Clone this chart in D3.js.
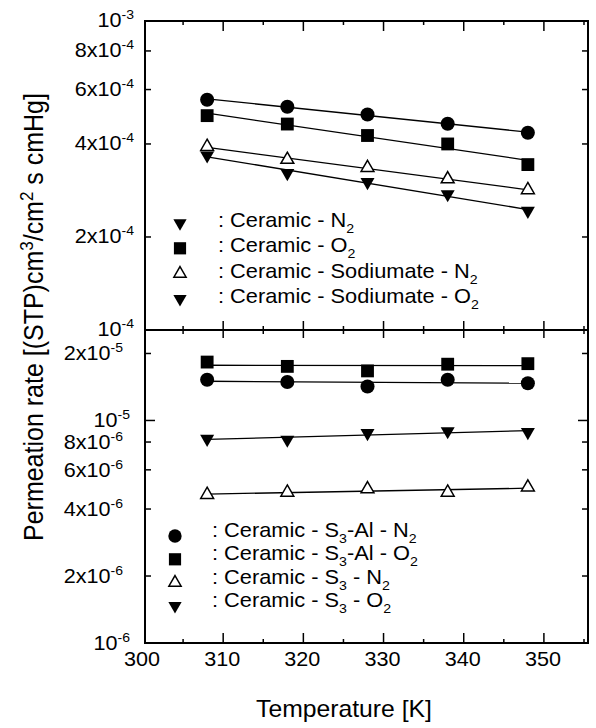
<!DOCTYPE html>
<html>
<head>
<meta charset="utf-8">
<script src="https://cdn.jsdelivr.net/npm/d3@7"></script>
<style>
html,body{margin:0;padding:0;background:#fff;}
svg{display:block;font-family:"Liberation Sans",Arial,Helvetica,sans-serif;}
</style>
</head>
<body>
<svg id="chart" width="596" height="728"></svg>
<script>
// ---------------- DATA ----------------
const temperatures = [308, 318, 328, 338, 348];

// upper panel (units: cm3(STP)/cm2 s cmHg)
const ceramicN2        = [5.56e-4, 5.28e-4, 4.98e-4, 4.65e-4, 4.35e-4];
const ceramicO2        = [4.94e-4, 4.64e-4, 4.26e-4, 4.00e-4, 3.43e-4];
const sodiumateN2      = [3.92e-4, 3.56e-4, 3.35e-4, 3.08e-4, 2.84e-4];
const sodiumateO2      = [3.67e-4, 3.22e-4, 3.01e-4, 2.75e-4, 2.43e-4];

// lower panel
const s3AlN2           = [1.525e-5, 1.49e-5, 1.42e-5, 1.525e-5, 1.47e-5];
const s3AlO2           = [1.83e-5, 1.75e-5, 1.67e-5, 1.79e-5, 1.80e-5];
const s3N2             = [4.64e-6, 4.75e-6, 4.92e-6, 4.75e-6, 5.01e-6];
const s3O2             = [8.27e-6, 8.19e-6, 8.77e-6, 8.95e-6, 8.86e-6];

const topLegendLabels    = [": Ceramic - N_2", ": Ceramic - O_2", ": Ceramic - Sodiumate - N_2", ": Ceramic - Sodiumate - O_2"];
const bottomLegendLabels = [": Ceramic - S_3-Al - N_2", ": Ceramic - S_3-Al - O_2", ": Ceramic - S_3 - N_2", ": Ceramic - S_3 - O_2"];

const xTickValues    = [300, 310, 320, 330, 340, 350];
const xMinorValues   = [305, 315, 325, 335, 345, 355];
const topYTicks      = [1e-3, 8e-4, 6e-4, 4e-4, 2e-4, 1e-4];
const topYTickLabels = [["","-3"], ["8x","-4"], ["6x","-4"], ["4x","-4"], ["2x","-4"], ["","-4"]];
const botYTicks      = [2e-5, 1e-5, 8e-6, 6e-6, 4e-6, 2e-6, 1e-6];
const botYTickLabels = [["2x","-5"], ["","-5"], ["8x","-6"], ["6x","-6"], ["4x","-6"], ["2x","-6"], ["","-6"]];

const xTitle = "Temperature [K]";

// ---------------- LAYOUT ----------------
const svg = d3.select("#chart");
const L = 145, R = 588;
const topY0 = 21, midY = 330, botY = 643;

const x = d3.scaleLinear().domain([300, 355.5]).range([143, R]);
const yTop = d3.scaleLog().domain([1e-4, 1e-3]).range([midY, topY0]);
const yBot = d3.scaleLog().domain([1e-6, 2.55e-5]).range([botY, midY]);

const topSeries = [
  {values: ceramicN2,   marker: "circle",  legend: "down"},
  {values: ceramicO2,   marker: "square",  legend: "square"},
  {values: sodiumateN2, marker: "up",      legend: "up"},
  {values: sodiumateO2, marker: "down",    legend: "down"}
];
const botSeries = [
  {values: s3AlN2, marker: "circle", legend: "circle"},
  {values: s3AlO2, marker: "square", legend: "square"},
  {values: s3N2,   marker: "up",     legend: "up"},
  {values: s3O2,   marker: "down",   legend: "down"}
];

function drawMarker(g, type, cx, cy, scale) {
  scale = scale || 1;
  let sym, rot = 0, fill = "#000", stroke = "none", sw = 0;
  if (type === "circle") sym = d3.symbol(d3.symbolCircle, 155 * scale);
  else if (type === "square") sym = d3.symbol(d3.symbolSquare, 165 * scale);
  else if (type === "down") { sym = d3.symbol(d3.symbolTriangle, 85 * scale); rot = 180; }
  else { sym = d3.symbol(d3.symbolTriangle, 72 * scale); fill = "#fff"; stroke = "#000"; sw = 1.5; }
  g.append("path").attr("d", sym())
    .attr("transform", `translate(${cx},${cy}) rotate(${rot})`)
    .attr("fill", fill).attr("stroke", stroke).attr("stroke-width", sw);
}

function fitLine(xs, ys) {
  const ly = ys.map(v => Math.log10(v));
  const n = xs.length, mx = d3.mean(xs), my = d3.mean(ly);
  let num = 0, den = 0;
  for (let i = 0; i < n; i++) { num += (xs[i]-mx)*(ly[i]-my); den += (xs[i]-mx)**2; }
  const b = num/den, a = my - b*mx;
  return t => Math.pow(10, a + b*t);
}

function drawSeries(series, y) {
  const g = svg.append("g");
  series.forEach(s => {
    const f = fitLine(temperatures, s.values);
    const t0 = d3.min(temperatures), t1 = d3.max(temperatures);
    g.append("line").attr("x1", x(t0)).attr("y1", y(f(t0))).attr("x2", x(t1)).attr("y2", y(f(t1)))
      .attr("stroke", "#000").attr("stroke-width", 1.3);
  });
  series.forEach(s => {
    s.values.forEach((v, i) => drawMarker(g, s.marker, x(temperatures[i]), y(v)));
  });
}

function richText(g, str, px, py, size, subSize, sx) {
  const t = g.append("text").attr("transform", `translate(${px},${py}) scale(${sx},1)`)
    .attr("font-size", size).attr("fill", "#000");
  const parts = str.split(/_(\d)/);
  parts.forEach((p, i) => {
    if (i % 2 === 0) {
      if (p) t.append("tspan").attr("dy", i === 0 ? 0 : -6).text(p);
    } else {
      t.append("tspan").attr("dy", 6).attr("font-size", subSize).text(p);
    }
  });
}

function drawLegend(labels, series, symX, textX, baseY0, step, symOff) {
  const g = svg.append("g");
  labels.forEach((lab, i) => {
    const by = baseY0 + i * step;
    drawMarker(g, series[i].legend, symX, by + symOff, 0.9);
    richText(g, lab, textX, by, 20, 13, 1.09);
  });
}

// ---------------- AXES / FRAME ----------------
const frame = svg.append("g").attr("stroke", "#000").attr("fill", "none");
frame.append("rect").attr("x", L).attr("y", topY0).attr("width", R - L).attr("height", botY - topY0).attr("stroke-width", 2);
frame.append("line").attr("x1", L).attr("x2", R).attr("y1", midY).attr("y2", midY).attr("stroke-width", 2);

// x ticks
const tickG = svg.append("g").attr("stroke", "#000").attr("stroke-width", 1.5);
xTickValues.filter(v => v > 300).forEach(v => {
  const px = x(v);
  tickG.append("line").attr("x1", px).attr("x2", px).attr("y1", topY0).attr("y2", topY0 + 10);
  tickG.append("line").attr("x1", px).attr("x2", px).attr("y1", midY - 9).attr("y2", midY + 8);
  tickG.append("line").attr("x1", px).attr("x2", px).attr("y1", botY).attr("y2", botY - 10);
});
xMinorValues.filter(v => v < 355.5).forEach(v => {
  const px = x(v);
  tickG.append("line").attr("x1", px).attr("x2", px).attr("y1", topY0).attr("y2", topY0 + 4);
  tickG.append("line").attr("x1", px).attr("x2", px).attr("y1", midY - 4).attr("y2", midY + 4);
  tickG.append("line").attr("x1", px).attr("x2", px).attr("y1", botY).attr("y2", botY - 4);
});

// y ticks
topYTicks.forEach(v => {
  if (v === 1e-3 || v === 1e-4) return;
  const py = yTop(v);
  tickG.append("line").attr("x1", L).attr("x2", L + 6).attr("y1", py).attr("y2", py);
  tickG.append("line").attr("x1", R).attr("x2", R - 6).attr("y1", py).attr("y2", py);
});
botYTicks.forEach(v => {
  if (v === 1e-6) return;
  const py = yBot(v);
  const len = (v === 1e-5) ? 10 : 6;
  tickG.append("line").attr("x1", L).attr("x2", L + len).attr("y1", py).attr("y2", py);
  tickG.append("line").attr("x1", R).attr("x2", R - len).attr("y1", py).attr("y2", py);
});

// y tick labels
const labG = svg.append("g").attr("fill", "#000");
function yLabel(v, lab, y, endX, dyOff) {
  const t = labG.append("text").attr("transform", `translate(${endX},${y(v) + dyOff}) scale(1.08,1)`)
    .attr("text-anchor", "end").attr("font-size", 20);
  t.append("tspan").text(lab[0] + "10");
  t.append("tspan").attr("dy", -8).attr("font-size", 13).text(lab[1]);
}
topYTicks.forEach((v, i) => yLabel(v, topYTickLabels[i], yTop, 134, 6));
botYTicks.forEach((v, i) => yLabel(v, botYTickLabels[i], yBot, botYTickLabels[i][0] ? 123 : 130, 7));

// x tick labels
xTickValues.forEach(v => {
  labG.append("text").attr("transform", `translate(${x(v) - 1},666) scale(1.08,1)`)
    .attr("text-anchor", "middle").attr("font-size", 20).text(v);
});

// axis titles
labG.append("text").attr("transform", `translate(344,717) scale(1.03,1)`)
  .attr("text-anchor", "middle").attr("font-size", 24).text(xTitle);

const yt = labG.append("text").attr("transform", `translate(43,317) scale(1.1,1) rotate(-90)`)
  .attr("text-anchor", "middle").attr("font-size", 25);
yt.append("tspan").text("Permeation rate [(STP)cm");
yt.append("tspan").attr("dy", -9).attr("font-size", 17).text("3");
yt.append("tspan").attr("dy", 9).text("/cm");
yt.append("tspan").attr("dy", -9).attr("font-size", 17).text("2");
yt.append("tspan").attr("dy", 9).text(" s cmHg]");

// ---------------- DATA MARKS ----------------
drawSeries(topSeries, yTop);
drawSeries(botSeries, yBot);

drawLegend(topLegendLabels, topSeries, 180, 218, 227, 25.3, -4);
drawLegend(bottomLegendLabels, botSeries, 175, 212, 537, 23.3, -1);
</script>
</body>
</html>
